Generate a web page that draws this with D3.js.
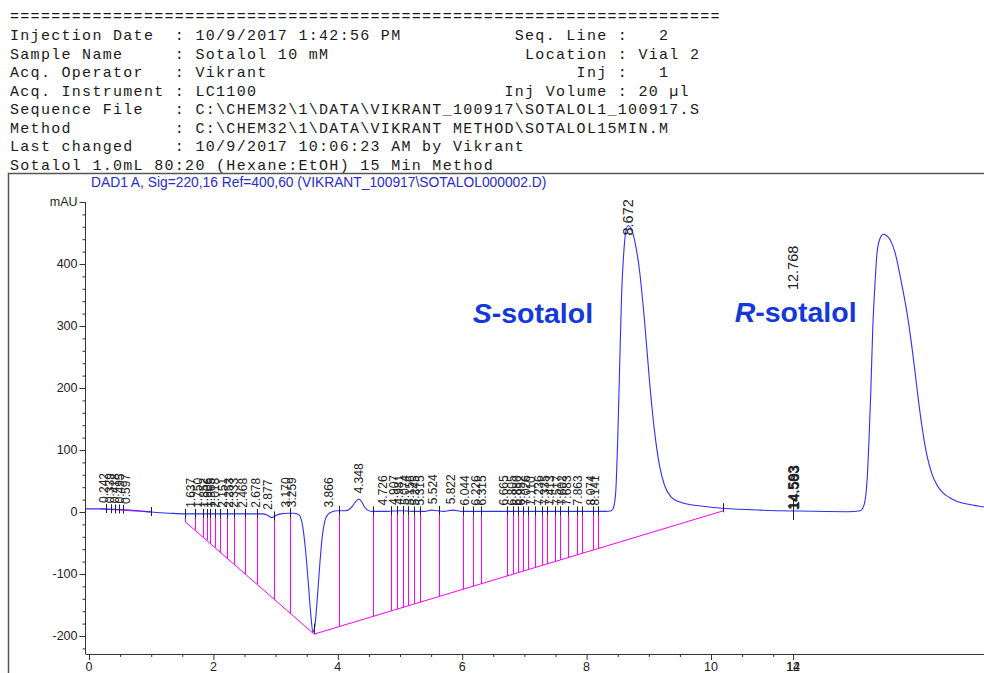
<!DOCTYPE html>
<html><head><meta charset="utf-8">
<script src="https://cdn.jsdelivr.net/npm/d3@7/dist/d3.min.js"></script>
<style>
body{margin:0;background:#fff}
svg{display:block}
</style>
</head><body>
<svg id="chart" width="984" height="673"></svg>
<script>
// ---- report header ----
const headerLines = [
  "=====================================================================",
  "Injection Date  : 10/9/2017 1:42:56 PM           Seq. Line :   2",
  "Sample Name     : Sotalol 10 mM                   Location : Vial 2",
  "Acq. Operator   : Vikrant                              Inj :   1",
  "Acq. Instrument : LC1100                        Inj Volume : 20 µl",
  "Sequence File   : C:\\CHEM32\\1\\DATA\\VIKRANT_100917\\SOTALOL1_100917.S",
  "Method          : C:\\CHEM32\\1\\DATA\\VIKRANT METHOD\\SOTALOL15MIN.M",
  "Last changed    : 10/9/2017 10:06:23 AM by Vikrant",
  "Sotalol 1.0mL 80:20 (Hexane:EtOH) 15 Min Method"
];
const signalTitle = "DAD1 A, Sig=220,16 Ref=400,60 (VIKRANT_100917\\SOTALOL000002.D)";

// ---- chromatogram trace: retention time (min) and absorbance (mAU) ----
const traceTime = [
  -0.05, 0.2, 0.5, 0.8, 1.0, 1.3, 1.55, 2.0, 2.5, 2.8, 2.88, 2.94, 3.0, 3.08, 3.2, 3.3,
  3.38, 3.43, 3.48, 3.53, 3.57, 3.60, 3.63, 3.67, 3.71, 3.75, 3.79, 3.84, 3.90, 4.0,
  4.12, 4.18, 4.24, 4.29, 4.34, 4.38, 4.43, 4.48, 4.55, 4.8, 5.0, 5.2, 5.4, 5.5, 5.6,
  5.7, 5.85, 6.0, 6.3, 6.6, 7.0, 7.5, 8.0, 8.3,
  8.40, 8.44, 8.47, 8.50, 8.53, 8.56, 8.60, 8.63, 8.67, 8.71, 8.77, 8.85, 8.93, 9.01,
  9.09, 9.17, 9.25, 9.36, 9.50, 9.80, 10.2, 10.8, 11.4, 12.2,
  12.40, 12.46, 12.51, 12.54, 12.57, 12.60, 12.64, 12.67, 12.72, 12.77, 12.82, 12.88,
  12.96, 13.05, 13.15, 13.22, 13.28, 13.34, 13.41, 13.47, 13.55, 13.63, 13.73, 13.84,
  13.96, 14.16, 14.39
];
const traceSignal = [
  5, 5, 4, 2, 0, -2, -3, -3, -3, -3, -6, -9, -6, -3, -2, -2,
  -5, -20, -60, -120, -170, -194, -185, -140, -85, -40, -15, -4, 0, 2,
  2, 4, 10, 17, 21, 17, 8, 3, 1, 1, 2, 1, 1, 3, 2,
  1, 3, 1, 1, 1, 1, 1, 1, 1,
  2, 10, 35, 116, 229, 342, 422, 452, 462, 458, 439, 390, 310, 213,
  132, 76, 44, 24, 16, 10, 6, 3, 1.5, 0.5,
  2, 11, 52, 116, 197, 294, 374, 419, 442, 448, 446, 439,
  418, 376, 322, 274, 226, 176, 126, 92, 62, 44, 31, 23,
  17, 12, 8
];

// ---- integration: baselines and peak boundaries (min) ----
const earlyBaselineTime = [0.18, 1.0];
const earlyBaselineSignal = [5, 0];
const earlyBoundaries = [0.27, 0.35, 0.42, 0.48, 0.55, 1.0];

const mainBaselineTime = [1.55, 3.62, 10.2];
const mainBaselineSignal = [-16, -197, 2];
const mainBoundaries = [
  1.55, 1.70, 1.83, 1.89, 1.95, 2.02, 2.11, 2.22, 2.33, 2.51, 2.70, 2.98, 3.23, 3.62,
  4.02, 4.56, 4.86, 4.95, 5.05, 5.13, 5.23, 5.32, 5.63, 6.01, 6.18, 6.30,
  6.72, 6.82, 6.90, 6.98, 7.05, 7.17, 7.29, 7.37, 7.49, 7.58, 7.70, 7.84, 7.92,
  8.11, 8.18, 10.2
];

// ---- retention time labels ----
const peakLabels = [
  "0.242", "0.339", "0.418", "0.495", "0.597",
  "1.637", "1.750", "1.852", "1.906", "1.965", "2.018", "2.151", "2.253", "2.333",
  "2.468", "2.678", "2.877", "3.170", "3.259",
  "3.866", "4.348",
  "4.726", "4.907", "4.981", "5.074", "5.156", "5.245", "5.315", "5.524", "5.822",
  "6.044", "6.226", "6.315",
  "6.665", "6.805", "6.880", "6.952", "7.026", "7.110", "7.236", "7.335", "7.413",
  "7.517", "7.602", "7.683", "7.863", "8.074", "8.141"
];
const mainPeakLabel = "8.672";
// labels of late peaks are stacked at the end of the time axis
const stackedLabels = ["12.768"];
const stackedMinorLabels = ["14.563", "14.583", "14.593"];
const stackedAt = 11.32;
const mainPeakLabelLevel = 446;      // mAU, foot of the 8.672 label
const stackedLabelLevel = 358;       // mAU, foot of the 12.768 label

// ---- axes ----
const xTickLabels = ["0", "2", "4", "6", "8", "10"];
const xStackedTickLabels = ["12", "14"];
const yTickLabels = ["-200", "-100", "0", "100", "200", "300", "400", "mAU"];

// ---- enantiomer annotations ----
const annotations = [
  {prefix: "S", text: "-sotalol", t: 6.17, v: 305},
  {prefix: "R", text: "-sotalol", t: 10.38, v: 306}
];

// ================= drawing =================
const svg = d3.select("#chart");
const x = d3.scaleLinear().domain([0, 10]).range([89, 711]);
const y = d3.scaleLinear().domain([0, 400]).range([512, 264]);
const yMin = -229, yMax = 500;
const axisX = 85.5;

const mono = "'Liberation Mono','Courier New',monospace";
const sans = "'Liberation Sans',Arial,sans-serif";

// header
const header = svg.append("g").attr("font-family", mono).attr("font-size", 15)
  .attr("fill", "#1a1a1a").attr("letter-spacing", "1.3px");
headerLines.forEach((line, i) => {
  header.append("text")
    .attr("x", 10)
    .attr("y", i === 0 ? 21 : 40 + (i - 1) * 18.5)
    .attr("xml:space", "preserve")
    .style("white-space", "pre")
    .text(line);
});

// frame
svg.append("path")
  .attr("d", "M8.5,673 V173.5 H984")
  .attr("fill", "none").attr("stroke", "#555").attr("stroke-width", 1.5);

// signal title
svg.append("text")
  .attr("x", 91).attr("y", 187)
  .attr("font-family", sans).attr("font-size", 13.8)
  .attr("fill", "#2a2ad0")
  .text(signalTitle);

// y axis
const yAxisG = svg.append("g").attr("transform", `translate(${axisX},0)`);
const yMinor = d3.range(-220, 501, 20).filter(v => v % 100 !== 0);
const yMajor = d3.range(-200, 501, 100);
yAxisG.append("line")
  .attr("x1", 0).attr("x2", 0).attr("y1", y(yMax)).attr("y2", y(yMin))
  .attr("stroke", "#333");
yAxisG.selectAll("line.minor").data(yMinor).join("line")
  .attr("class", "minor").attr("x1", -3).attr("x2", 0)
  .attr("y1", d => y(d) + 0.5).attr("y2", d => y(d) + 0.5).attr("stroke", "#333");
yAxisG.selectAll("line.major").data(yMajor).join("line")
  .attr("class", "major").attr("x1", -6).attr("x2", 0)
  .attr("y1", d => y(d) + 0.5).attr("y2", d => y(d) + 0.5).attr("stroke", "#333");
yAxisG.selectAll("text").data(yMajor).join("text")
  .attr("x", -8).attr("y", d => y(d)).attr("dy", "0.35em")
  .attr("text-anchor", "end").attr("font-family", sans).attr("font-size", 12.5)
  .attr("fill", "#222")
  .text((d, i) => yTickLabels[i]);

// x axis
const xAxisY = y(yMin);
const xAxisG = svg.append("g");
xAxisG.append("line")
  .attr("x1", axisX).attr("x2", 984).attr("y1", xAxisY + 0.5).attr("y2", xAxisY + 0.5)
  .attr("stroke", "#333");
const xTicks = d3.range(0, 11.01, 0.5);
xAxisG.selectAll("line.tick").data(xTicks).join("line")
  .attr("class", "tick")
  .attr("x1", d => x(d) + 0.5).attr("x2", d => x(d) + 0.5)
  .attr("y1", xAxisY).attr("y2", d => xAxisY + (d % 2 === 0 ? 6 : 3))
  .attr("stroke", "#333");
xAxisG.append("line")
  .attr("x1", x(stackedAt) + 0.5).attr("x2", x(stackedAt) + 0.5)
  .attr("y1", xAxisY).attr("y2", xAxisY + 6).attr("stroke", "#333");
xAxisG.selectAll("text.lab").data(xTickLabels).join("text")
  .attr("class", "lab")
  .attr("x", d => x(+d)).attr("y", xAxisY + 17)
  .attr("text-anchor", "middle").attr("font-family", sans).attr("font-size", 12.5)
  .attr("fill", "#222").text(d => d);
xAxisG.selectAll("text.stk").data(xStackedTickLabels).join("text")
  .attr("class", "stk")
  .attr("x", x(stackedAt)).attr("y", xAxisY + 17)
  .attr("text-anchor", "middle").attr("font-family", sans).attr("font-size", 12.5)
  .attr("fill", "#222").text(d => d);

// helpers
const trace = traceTime.map((t, i) => [t, traceSignal[i]]);
const lerp = (ts, vs, t) => {
  const i = Math.max(1, Math.min(ts.length - 1, d3.bisectLeft(ts, t)));
  const t0 = ts[i - 1], t1 = ts[i];
  const k = (t - t0) / (t1 - t0);
  return vs[i - 1] + k * (vs[i] - vs[i - 1]);
};
const traceAt = t => lerp(traceTime, traceSignal, t);

// integration baselines and drop lines
const pink = "#ff00ff";
const lineGen = d3.line().x(d => x(d[0])).y(d => y(d[1]));
svg.append("path")
  .datum(earlyBaselineTime.map((t, i) => [t, earlyBaselineSignal[i]]))
  .attr("d", lineGen).attr("fill", "none").attr("stroke", pink);
svg.append("path")
  .datum(mainBaselineTime.map((t, i) => [t, mainBaselineSignal[i]]))
  .attr("d", lineGen).attr("fill", "none").attr("stroke", pink);
svg.selectAll("line.drop").data(mainBoundaries).join("line")
  .attr("class", "drop")
  .attr("x1", d => Math.round(x(d)) + 0.5).attr("x2", d => Math.round(x(d)) + 0.5)
  .attr("y1", d => y(traceAt(d)))
  .attr("y2", d => y(lerp(mainBaselineTime, mainBaselineSignal, d)))
  .attr("stroke", pink);

// chromatogram
svg.append("path")
  .datum(trace)
  .attr("d", d3.line().x(d => x(d[0])).y(d => y(d[1])).curve(d3.curveMonotoneX))
  .attr("fill", "none").attr("stroke", "#2f2ff6").attr("stroke-width", 1.1);

// boundary ticks
const tickG = svg.append("g").attr("stroke", "#222");
earlyBoundaries.concat(mainBoundaries).forEach(t => {
  const yy = y(traceAt(t));
  tickG.append("line")
    .attr("x1", Math.round(x(t)) + 0.5).attr("x2", Math.round(x(t)) + 0.5)
    .attr("y1", yy - 5).attr("y2", yy + 4);
});
tickG.append("line")
  .attr("x1", Math.round(x(stackedAt)) + 0.5).attr("x2", Math.round(x(stackedAt)) + 0.5)
  .attr("y1", y(22)).attr("y2", y(-13));

// retention time labels
const labelG = svg.append("g").attr("font-family", sans).attr("font-size", 12)
  .attr("fill", "#222");
peakLabels.forEach(s => {
  const t = +s;
  labelG.append("text")
    .attr("transform", `translate(${x(t) + 4},${y(traceAt(t)) - 6}) rotate(-90)`)
    .text(s);
});
labelG.append("text")
  .attr("transform", `translate(${x(+mainPeakLabel) + 5},${y(mainPeakLabelLevel)}) rotate(-90)`)
  .attr("font-size", 14.5)
  .text(mainPeakLabel);
stackedLabels.forEach(s => {
  labelG.append("text")
    .attr("transform", `translate(${x(stackedAt) + 5},${y(stackedLabelLevel)}) rotate(-90)`)
    .attr("font-size", 14.5)
    .text(s);
});
stackedMinorLabels.forEach((s, i) => {
  labelG.append("text")
    .attr("transform", `translate(${x(stackedAt) + 5 + i * 0.4},${y(3) - i * 0.4}) rotate(-90)`)
    .attr("font-size", 14.5)
    .text(s);
});

// enantiomer annotations
annotations.forEach(a => {
  const t = svg.append("text")
    .attr("x", x(a.t)).attr("y", y(a.v))
    .attr("font-family", sans).attr("font-size", 28.5).attr("font-weight", "bold")
    .attr("fill", "#1538dc");
  t.append("tspan").attr("font-style", "italic").text(a.prefix);
  t.append("tspan").text(a.text);
});
</script>
</body></html>
